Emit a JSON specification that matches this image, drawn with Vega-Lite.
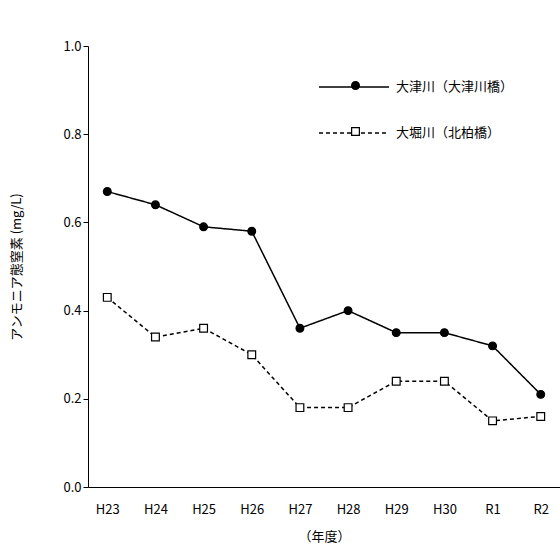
{
  "$schema": "https://vega.github.io/schema/vega-lite/v6.json",
  "autosize": "none",
  "padding": {"left": 88, "top": 46, "right": 0, "bottom": 62},
  "width": 472,
  "height": 441,
  "data": {"values": [
    {"y": "H23", "s": "大津川（大津川橋）", "v": 0.67},
    {"y": "H24", "s": "大津川（大津川橋）", "v": 0.64},
    {"y": "H25", "s": "大津川（大津川橋）", "v": 0.59},
    {"y": "H26", "s": "大津川（大津川橋）", "v": 0.58},
    {"y": "H27", "s": "大津川（大津川橋）", "v": 0.36},
    {"y": "H28", "s": "大津川（大津川橋）", "v": 0.40},
    {"y": "H29", "s": "大津川（大津川橋）", "v": 0.35},
    {"y": "H30", "s": "大津川（大津川橋）", "v": 0.35},
    {"y": "R1", "s": "大津川（大津川橋）", "v": 0.32},
    {"y": "R2", "s": "大津川（大津川橋）", "v": 0.21},
    {"y": "H23", "s": "大堀川（北柏橋）", "v": 0.43},
    {"y": "H24", "s": "大堀川（北柏橋）", "v": 0.34},
    {"y": "H25", "s": "大堀川（北柏橋）", "v": 0.36},
    {"y": "H26", "s": "大堀川（北柏橋）", "v": 0.30},
    {"y": "H27", "s": "大堀川（北柏橋）", "v": 0.18},
    {"y": "H28", "s": "大堀川（北柏橋）", "v": 0.18},
    {"y": "H29", "s": "大堀川（北柏橋）", "v": 0.24},
    {"y": "H30", "s": "大堀川（北柏橋）", "v": 0.24},
    {"y": "R1", "s": "大堀川（北柏橋）", "v": 0.15},
    {"y": "R2", "s": "大堀川（北柏橋）", "v": 0.16}
  ]},
  "encoding": {
    "x": {"field": "y", "type": "ordinal", "sort": null, "scale": {"type": "point", "padding": 0.4},
      "title": "（年度）",
      "axis": {"labelAngle": 0, "domainColor": "black", "tickColor": "black", "tickSize": 0, "labelPadding": 16, "titlePadding": 14, "labelFontSize": 13, "titleFontSize": 13, "titleFontWeight": "normal", "labelColor": "black", "titleColor": "black"}},
    "y": {"field": "v", "type": "quantitative", "scale": {"domain": [0, 1]},
      "title": "アンモニア態窒素 (mg/L)",
      "axis": {"values": [0, 0.2, 0.4, 0.6, 0.8, 1.0], "format": ".1f", "grid": false, "domainColor": "black", "tickColor": "black", "tickSize": 5, "labelFontSize": 13, "titleFontSize": 13, "titleFontWeight": "normal", "titlePadding": 39, "labelColor": "black", "titleColor": "black"}}
  },
  "layer": [
    {"mark": {"type": "line", "color": "black", "strokeWidth": 1.5},
      "encoding": {"strokeDash": {"field": "s", "type": "nominal", "sort": null,
        "scale": {"range": [[1, 0], [4, 3]]}, "title": null,
        "legend": {"orient": "none", "legendX": 230, "legendY": 5, "symbolType": "stroke", "symbolSize": 4900, "symbolStrokeWidth": 1.5, "symbolStrokeColor": "black", "labelFontSize": 13, "labelOffset": 6, "rowPadding": 3, "labelColor": "black"}}}},
    {"mark": {"type": "point", "color": "black", "size": 60, "strokeWidth": 1.2, "opacity": 1},
      "encoding": {
        "shape": {"field": "s", "type": "nominal", "sort": null, "scale": {"range": ["circle", "square"]}, "title": null,
          "legend": {"orient": "none", "legendX": 261, "legendY": 33, "symbolSize": 60, "symbolStrokeWidth": 1.2, "labelFontSize": 13, "labelOffset": 37, "rowPadding": 32, "labelOpacity": 0,
            "encode": {"symbols": {"update": {"stroke": {"value": "black"}}}}}},
        "fill": {"field": "s", "type": "nominal", "sort": null, "scale": {"range": ["black", "white"]}, "title": null}
      }}
  ],
  "config": {
    "font": "Noto Sans CJK JP",
    "view": {"stroke": null}
  }
}
